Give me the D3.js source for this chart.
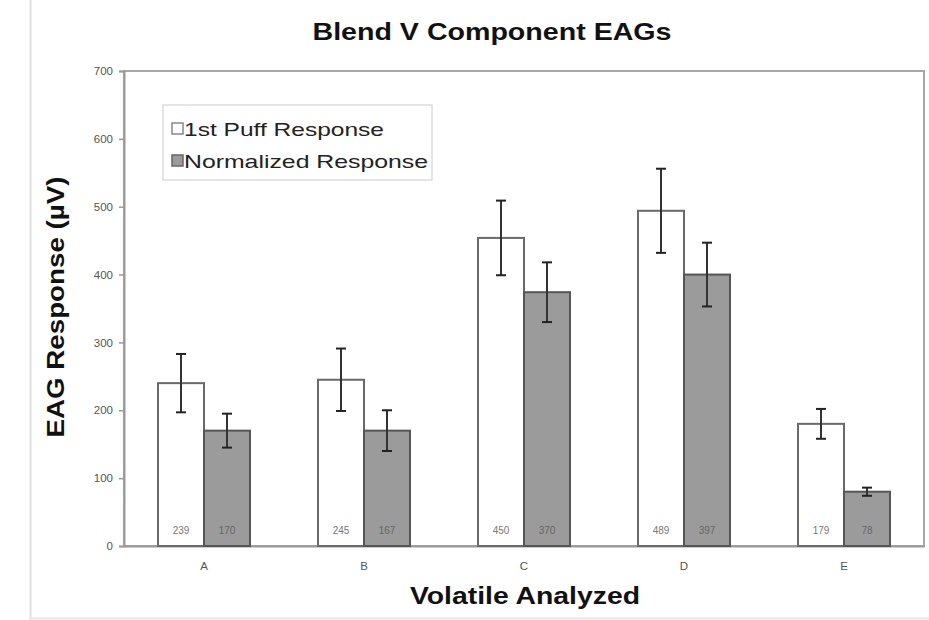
<!DOCTYPE html>
<html><head><meta charset="utf-8">
<script src="https://cdn.jsdelivr.net/npm/d3@7"></script>
<style>body{margin:0;background:#fff}svg{display:block;font-family:Arial,"Liberation Sans",sans-serif}</style>
</head><body><svg id="c" width="929" height="620"></svg>
<script>
const categories = ["A","B","C","D","E"];
const firstPuff = [240,245,454,494,180];
const normalized = [170,170,374,400,80];
const firstPuffErr = [43,46,55,62,22];
const normalizedErr = [25,30,44,47,6];
const firstPuffLabels = ["239","245","450","489","179"];
const normalizedLabels = ["170","167","370","397","78"];
const yTicks = [0,100,200,300,400,500,600,700];
const seriesNames = ["1st Puff Response","Normalized Response"];

const svg = d3.select("#c");
const m = {l:124, r:924, t:71, b:546};
const x = d3.scaleBand().domain(categories).range([m.l,m.r]).paddingInner(0).paddingOuter(0);
const y = d3.scaleLinear().domain([0,700]).range([m.b,m.t]);
const bw = 46;

// outer faint frame
svg.append("line").attr("x1",30.5).attr("x2",30.5).attr("y1",0).attr("y2",620).attr("stroke","#e2e2e2").attr("stroke-width",2);
svg.append("line").attr("x1",30).attr("x2",929).attr("y1",618.5).attr("y2",618.5).attr("stroke","#e6e6e6").attr("stroke-width",2);

// plot border
svg.append("rect").attr("x",m.l).attr("y",m.t).attr("width",m.r-m.l).attr("height",m.b-m.t)
  .attr("fill","none").attr("stroke","#a8a8a8").attr("stroke-width",2);

// y axis
const ya = svg.append("g").attr("transform",`translate(${m.l},0)`)
  .call(d3.axisLeft(y).tickValues(yTicks).tickSize(5).tickPadding(6));
ya.select(".domain").attr("stroke","#999").attr("stroke-width",2);
ya.selectAll(".tick line").attr("stroke","#999").attr("stroke-width",1.5);
ya.selectAll(".tick text").attr("fill","#555").attr("font-size",11.5);

// x axis
const xa = svg.append("g").attr("transform",`translate(0,${m.b})`)
  .call(d3.axisBottom(x).tickSize(0).tickPadding(16));
xa.select(".domain").attr("stroke","#999").attr("stroke-width",2);
xa.selectAll(".tick text").attr("fill","#555").attr("font-size",11.5);

const groups = svg.append("g").selectAll("g").data(categories).join("g")
  .attr("transform",d=>`translate(${x(d)+x.bandwidth()/2},0)`);

// bars
groups.append("rect").attr("x",-bw).attr("width",bw)
  .attr("y",(d,i)=>y(firstPuff[i])).attr("height",(d,i)=>y(0)-y(firstPuff[i]))
  .attr("fill","#fff").attr("stroke","#6a6a6a").attr("stroke-width",2);
groups.append("rect").attr("x",0).attr("width",bw)
  .attr("y",(d,i)=>y(normalized[i])).attr("height",(d,i)=>y(0)-y(normalized[i]))
  .attr("fill","#9b9b9b").attr("stroke","#555").attr("stroke-width",2);

// value labels
groups.append("text").attr("x",-bw/2).attr("y",y(0)-12).attr("text-anchor","middle")
  .attr("font-size",10).attr("fill","#777").text((d,i)=>firstPuffLabels[i]);
groups.append("text").attr("x",bw/2).attr("y",y(0)-12).attr("text-anchor","middle")
  .attr("font-size",10).attr("fill","#666").text((d,i)=>normalizedLabels[i]);

// error bars
function err(g, cx, vals, errs){
  g.append("line").attr("x1",cx).attr("x2",cx)
    .attr("y1",(d,i)=>y(vals[i]+errs[i])).attr("y2",(d,i)=>y(vals[i]-errs[i]))
    .attr("stroke","#333").attr("stroke-width",2);
  [1,-1].forEach(s=>{
    g.append("line").attr("x1",cx-5).attr("x2",cx+5)
      .attr("y1",(d,i)=>y(vals[i]+s*errs[i])).attr("y2",(d,i)=>y(vals[i]+s*errs[i]))
      .attr("stroke","#222").attr("stroke-width",2);
  });
}
err(groups,-bw/2,firstPuff,firstPuffErr);
err(groups,bw/2,normalized,normalizedErr);

// titles
svg.append("text").attr("x",492).attr("y",40).attr("text-anchor","middle")
  .attr("font-size",24).attr("font-weight","bold").attr("fill","#111")
  .attr("textLength",359).attr("lengthAdjust","spacingAndGlyphs").text("Blend V Component EAGs");
svg.append("text").attr("transform","translate(64,307) rotate(-90)").attr("text-anchor","middle")
  .attr("font-size",24).attr("font-weight","bold").attr("fill","#111")
  .attr("textLength",261).attr("lengthAdjust","spacingAndGlyphs").text("EAG Response (µV)");
svg.append("text").attr("x",525).attr("y",604).attr("text-anchor","middle")
  .attr("font-size",24).attr("font-weight","bold").attr("fill","#111")
  .attr("textLength",230).attr("lengthAdjust","spacingAndGlyphs").text("Volatile Analyzed");

// legend
const lg = svg.append("g");
lg.append("rect").attr("x",163).attr("y",105).attr("width",269).attr("height",75)
  .attr("fill","#fff").attr("stroke","#ccc").attr("stroke-width",1);
const fills = ["#fff","#9b9b9b"], strokes=["#888","#666"], lens=[200,244];
seriesNames.forEach((n,i)=>{
  const cy = 129 + i*32;
  lg.append("rect").attr("x",172).attr("y",cy-6).attr("width",11).attr("height",11)
    .attr("fill",fills[i]).attr("stroke",strokes[i]).attr("stroke-width",1.5);
  lg.append("text").attr("x",184).attr("y",cy+7).attr("font-size",19).attr("fill","#222")
    .attr("textLength",lens[i]).attr("lengthAdjust","spacingAndGlyphs").text(n);
});
</script></body></html>
